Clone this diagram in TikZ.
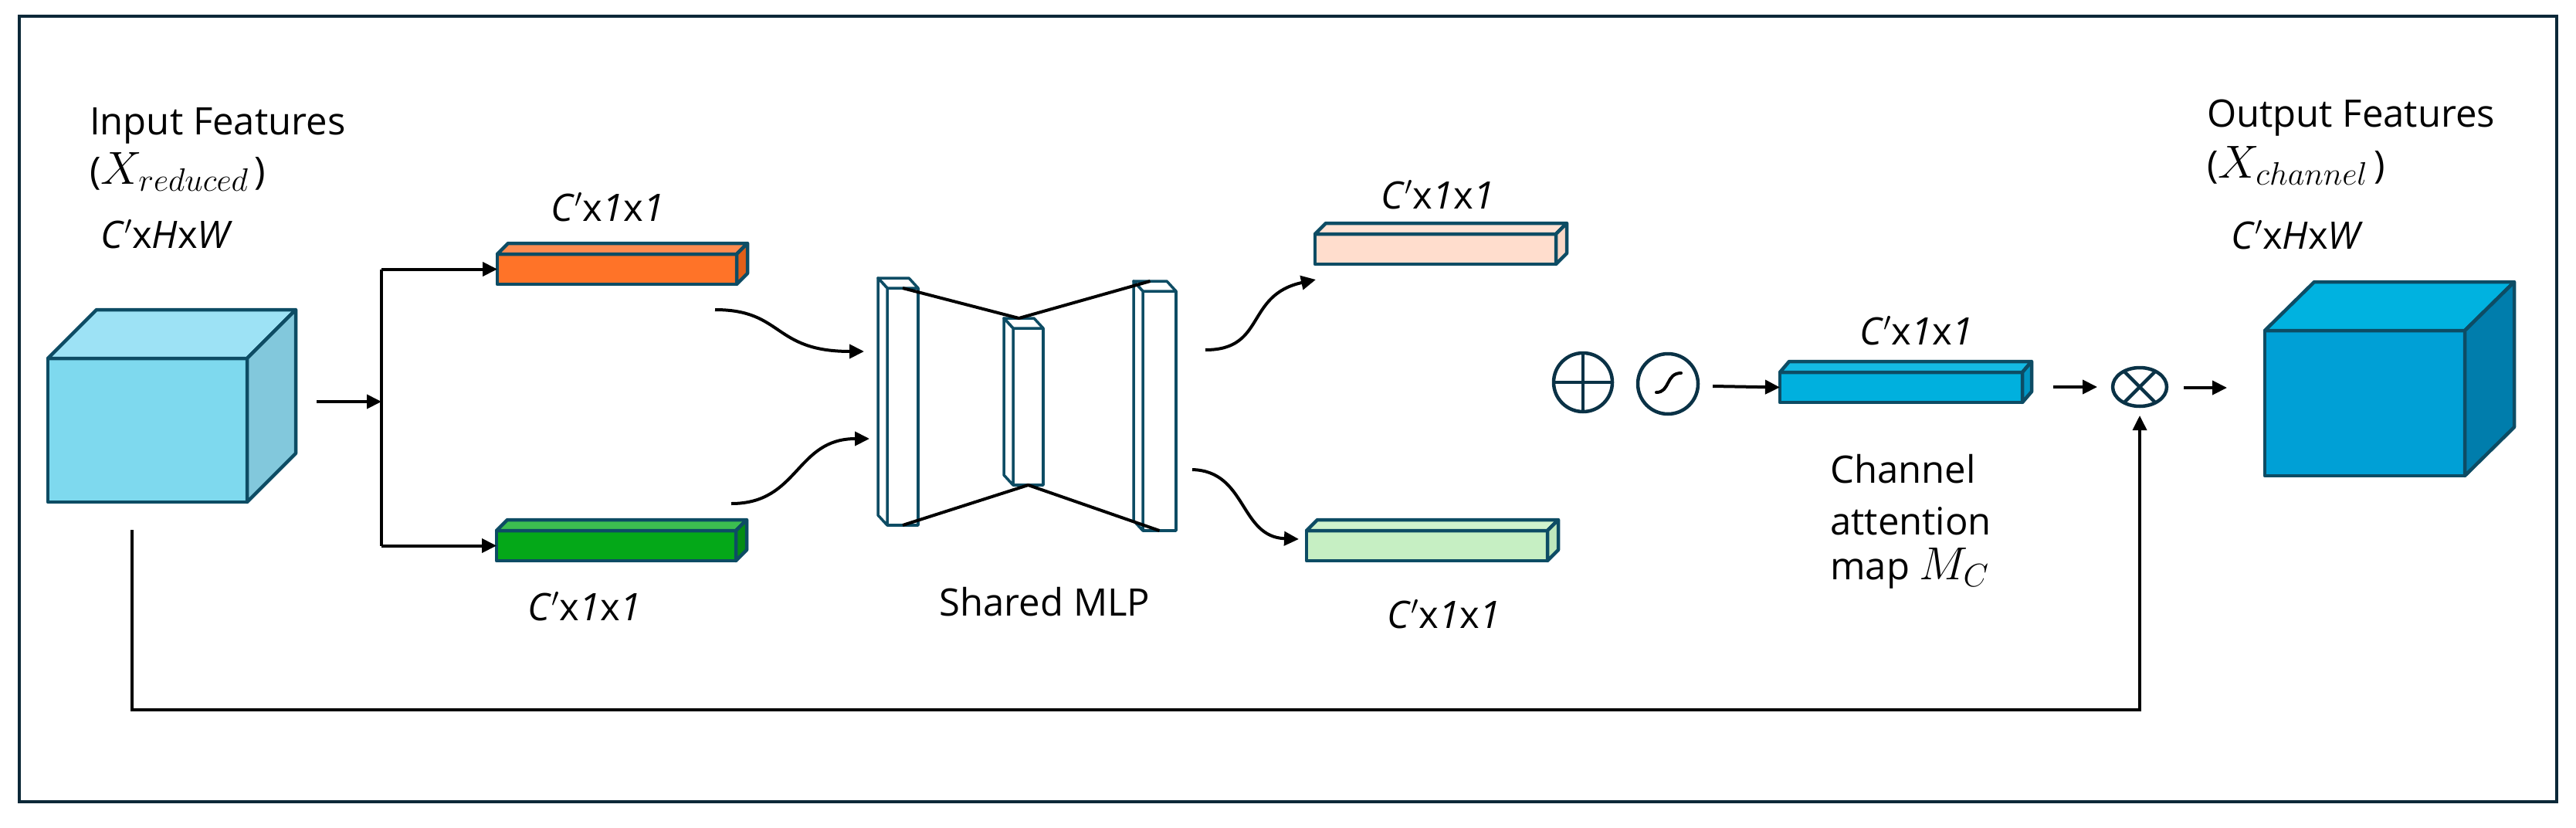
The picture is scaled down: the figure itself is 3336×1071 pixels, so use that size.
\RequirePackage{fix-cm}
\documentclass[tikz,border=0pt]{standalone}
\usepackage{fontspec}
\setmainfont{Open Sans}
\usetikzlibrary{arrows.meta,shapes.geometric}

\definecolor{edgecol}{RGB}{13,76,100}
\definecolor{framecol}{RGB}{12,40,56}
\definecolor{opcol}{RGB}{10,50,70}
\definecolor{inF}{RGB}{126,217,238}
\definecolor{inT}{RGB}{157,226,245}
\definecolor{inS}{RGB}{130,200,220}
\definecolor{outF}{RGB}{0,160,214}
\definecolor{outT}{RGB}{0,178,224}
\definecolor{outS}{RGB}{0,125,172}
\definecolor{orF}{RGB}{255,115,40}
\definecolor{orT}{RGB}{255,140,80}
\definecolor{orS}{RGB}{225,95,25}
\definecolor{grF}{RGB}{4,168,24}
\definecolor{grT}{RGB}{60,190,80}
\definecolor{grS}{RGB}{4,140,20}
\definecolor{peF}{RGB}{255,221,205}
\definecolor{peT}{RGB}{255,226,212}
\definecolor{peS}{RGB}{250,215,198}
\definecolor{lgF}{RGB}{198,239,195}
\definecolor{lgT}{RGB}{208,243,205}
\definecolor{lgS}{RGB}{190,232,188}
\definecolor{blF}{RGB}{0,176,222}
\definecolor{blT}{RGB}{20,186,228}
\definecolor{blS}{RGB}{0,150,195}

\tikzset{
  edge/.style={draw=edgecol, line width=4.5pt, line join=round},
  face/.style={edge, rectangle, inner sep=0pt, outer sep=0pt},
  thinface/.style={draw=edgecol, line width=3.5pt, line join=round, fill=white, inner sep=0pt, outer sep=0pt},
  arr/.style={line width=4pt, -{Triangle[length=19pt,width=18pt]}},
  wire/.style={line width=4pt},
  lbl/.style={font=\fontsize{49}{58}\selectfont, inner sep=0pt, anchor=base west},
  clbl/.style={font=\fontsize{49}{58}\selectfont, inner sep=0pt, anchor=base},
  opnode/.style={draw=opcol, line width=4.5pt, inner sep=0pt, outer sep=0pt},
}
\newcommand{\largemath}[1]{{\fontsize{60}{70}\selectfont$#1$}}

% name, center, width, height, dx, dy, front, top, side
\newcommand{\prism}[9]{%
  \node[face, fill=#7, minimum width=#3pt, minimum height=#4pt] (#1) at #2 {};
  \draw[edge, fill=#8] (#1.north west) -- ([shift={(#5,#6)}]#1.north west) -- ([shift={(#5,#6)}]#1.north east) -- (#1.north east) -- cycle;
  \draw[edge, fill=#9] (#1.north east) -- ([shift={(#5,#6)}]#1.north east) -- ([shift={(#5,#6)}]#1.south east) -- (#1.south east) -- cycle;
}
% name, center, width, height
\newcommand{\mlplayer}[4]{%
  \node[thinface, minimum width=#3pt, minimum height=#4pt] (#1) at #2 {};
  \draw[thinface] (#1.north west) -- ([shift={(-12,-13)}]#1.north west) -- ([shift={(-12,-13)}]#1.north east) -- (#1.north east) -- cycle;
  \draw[thinface] (#1.north west) -- ([shift={(-12,-13)}]#1.north west) -- ([shift={(-12,-13)}]#1.south west) -- (#1.south west) -- cycle;
}

\begin{document}
\begin{tikzpicture}[x=1pt,y=-1pt]
\useasboundingbox (0,0) rectangle (3336,1071);
\fill[white] (0,0) rectangle (3336,1071);
\draw[draw=framecol, line width=4pt] (25,21) rectangle (3311,1038);

% ---------- input ----------
\node[lbl] (inT1) at (116,174) {Input Features};
\node[lbl] (inT2) at (116,238) {(\largemath{X_{reduced}}\,)};
\node[lbl] (inT3) at (130,321) {\textit{C}$^{\prime}$x\textit{H}x\textit{W}};
\prism{incube}{(191,557)}{258}{186}{63}{-63}{inF}{inT}{inS}

% branch
\coordinate (cubeout) at (410,520);
\coordinate (br) at (494,520);
\coordinate (brTop) at (494,348.5);
\coordinate (brBot) at (494,706.5);
\prism{orange}{(799,348.5)}{310}{39}{14}{-14}{orF}{orT}{orS}
\prism{green}{(798,706.5)}{310}{39}{14}{-14}{grF}{grT}{grS}
\draw[arr] (cubeout) -- (br);
\draw[wire] (brTop) -- (brBot);
\draw[arr] (brTop) -- (orange.west);
\draw[arr] (brBot) -- (green.west);
\node[clbl] (orL) at (787,286) {\textit{C}$^{\prime}$x\textit{1}x\textit{1}};
\node[clbl] (grL) at (757,803) {\textit{C}$^{\prime}$x\textit{1}x\textit{1}};

% ---------- shared MLP ----------
\mlplayer{L1}{(1169,526.5)}{40}{307}
\mlplayer{L2}{(1331.5,526.5)}{39}{203}
\mlplayer{L3}{(1501.5,532)}{43}{310}
\draw[wire, line join=round] (L1.north) -- ([shift={(-12,-13)}]L2.north) -- ([shift={(-12,-13)}]L3.north);
\draw[wire, line join=round] (L1.south) -- (L2.south) -- (L3.south);
\node[clbl] (mlpL) at (1353,797) {Shared MLP};

\coordinate (c1s) at (926,401);
\coordinate (c1e) at (1119,455);
\coordinate (c2s) at (947,652);
\coordinate (c2e) at (1126,568);
\draw[arr] (c1s) .. controls (1015,401) and (1000,455) .. (c1e);
\draw[arr] (c2s) .. controls (1035,652) and (1030,568) .. (c2e);

% ---------- outputs of MLP ----------
\prism{peach}{(1859,322.5)}{312}{39}{14}{-14}{peF}{peT}{peS}
\prism{lgreen}{(1848,706.5)}{312}{39}{14}{-14}{lgF}{lgT}{lgS}
\node[clbl] (peL) at (1862,270) {\textit{C}$^{\prime}$x\textit{1}x\textit{1}};
\node[clbl] (lgL) at (1870,813) {\textit{C}$^{\prime}$x\textit{1}x\textit{1}};
\coordinate (o1s) at (1561,453);
\coordinate (o1e) at (1704,362);
\coordinate (o2s) at (1544,608);
\coordinate (o2e) at (1682,698);
\draw[arr] (o1s) .. controls (1640,453) and (1612,382) .. (o1e);
\draw[arr] (o2s) .. controls (1615,610) and (1605,695) .. (o2e);

% ---------- operators ----------
\node[opnode, circle, minimum size=76pt] (plus) at (2050,495) {};
\draw[opcol, line width=4.5pt] (plus.north) -- (plus.south);
\draw[opcol, line width=4.5pt] (plus.west) -- (plus.east);
\node[opnode, circle, minimum size=78pt] (sig) at (2160,497) {};
\draw[line width=4pt, line cap=round] (2145,508) .. controls (2163,508) and (2157,483) .. (2177,483);

\prism{att}{(2462,501.5)}{314}{39}{12}{-14}{blF}{blT}{blS}
\node[clbl] (attL) at (2482,446) {\textit{C}$^{\prime}$x\textit{1}x\textit{1}};
\coordinate (sigout) at (2218,500);
\draw[arr] (sigout) -- (att.west);

\node[opnode, ellipse, minimum width=70pt, minimum height=50pt] (otimes) at (2771,501) {};
\draw[opcol, line width=4.5pt] (otimes.45) -- (otimes.225);
\draw[opcol, line width=4.5pt] (otimes.135) -- (otimes.315);
\coordinate (attout) at (2659,501);
\draw[arr] (attout) -- ([xshift=-20pt]otimes.west);

\node[lbl] (chL1) at (2370,625) {Channel};
\node[lbl] (chL2) at (2370,692) {attention};
\node[lbl] (chL3) at (2370,750) {map \largemath{M_C}};

% ---------- output ----------
\prism{outcube}{(3062.5,522)}{259}{188}{64}{-63}{outF}{outT}{outS}
\node[lbl] (outT1) at (2858,164) {Output Features};
\node[lbl] (outT2) at (2858,230) {(\largemath{X_{channel}}\,)};
\node[lbl] (outT3) at (2889,322) {\textit{C}$^{\prime}$x\textit{H}x\textit{W}};
\coordinate (otout) at (2828,502);
\coordinate (outin) at (2884,502);
\draw[arr] (otout) -- (outin);

% ---------- skip connection ----------
\coordinate (sk) at (171,686);
\coordinate (skc) at (171,919);
\draw[arr, line width=3.5pt, shorten >=12pt] (sk) -- (skc) -| (otimes.south);
\end{tikzpicture}
\end{document}
